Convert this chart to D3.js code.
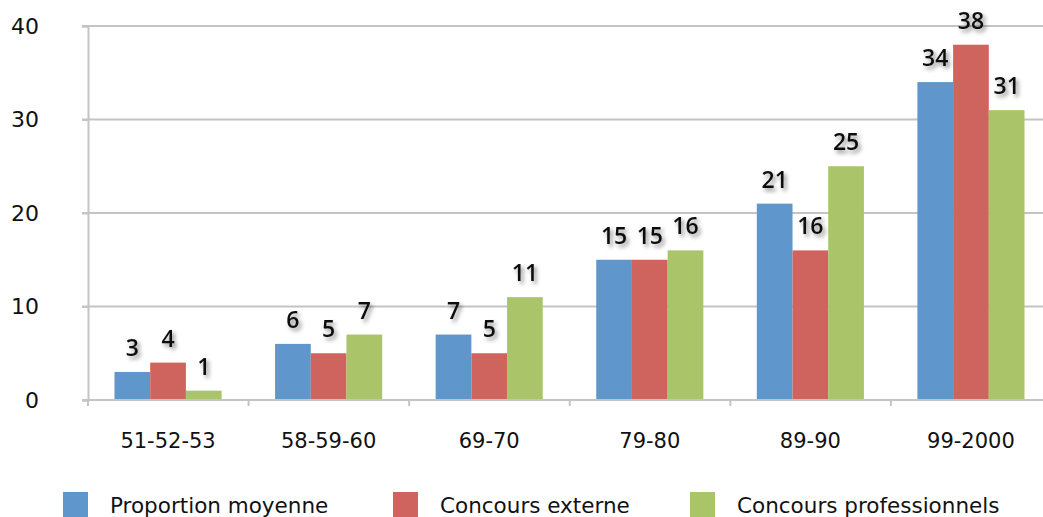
<!DOCTYPE html>
<html>
<head>
<meta charset="utf-8">
<script src="https://cdn.jsdelivr.net/npm/d3@7"></script>
<style>
  body { margin: 0; background: #fff; }
  svg { display: block; }
  text { font-family: "DejaVu Sans", sans-serif; fill: #111; }
</style>
</head>
<body>
<svg id="chart" width="1043" height="517"></svg>
<script>
// chart data
var categories = ["51-52-53", "58-59-60", "69-70", "79-80", "89-90", "99-2000"];
var seriesNames = ["Proportion moyenne", "Concours externe", "Concours professionnels"];
var proportionMoyenne = [3, 6, 7, 15, 21, 34];
var concoursExterne = [4, 5, 5, 15, 16, 38];
var concoursPro = [1, 7, 11, 16, 25, 31];
var yTicks = [0, 10, 20, 30, 40];
var colors = ["#5f96cb", "#cf645f", "#aac46a"];

var seriesValues = [proportionMoyenne, concoursExterne, concoursPro];

var svg = d3.select("#chart");

// plot area runs a little past the right edge of the picture, like the original
var plotLeft = 88, plotRight = 1051, plotTop = 26, plotBottom = 400;
var canvasRight = 1043;

var x = d3.scaleBand()
    .domain(categories)
    .range([plotLeft, plotRight])
    .paddingInner(0.333)
    .paddingOuter(0.165);

var xInner = d3.scaleBand()
    .domain(d3.range(seriesNames.length))
    .range([0, x.bandwidth()]);

var y = d3.scaleLinear()
    .domain([0, 40])
    .range([plotBottom, plotTop]);

// shadow for data labels
var defs = svg.append("defs");
var filter = defs.append("filter").attr("id", "shadow")
    .attr("x", "-40%").attr("y", "-40%").attr("width", "180%").attr("height", "180%");
filter.append("feDropShadow")
    .attr("dx", 2.5).attr("dy", 3)
    .attr("stdDeviation", 2.2)
    .attr("flood-color", "#000")
    .attr("flood-opacity", 0.45);

// gridlines
svg.append("g").selectAll("line")
    .data(yTicks.filter(function (d) { return d > 0; }))
    .enter().append("line")
    .attr("x1", plotLeft - 6).attr("x2", canvasRight)
    .attr("y1", function (d) { return y(d); })
    .attr("y2", function (d) { return y(d); })
    .attr("stroke", "#c4c4c4")
    .attr("stroke-width", 2);

// y axis
var yAxis = svg.append("g")
    .attr("transform", "translate(" + plotLeft + ",0)")
    .call(d3.axisLeft(y).tickValues(yTicks).tickSize(6).tickPadding(43));
yAxis.select(".domain").attr("stroke", "#c4c4c4").attr("stroke-width", 2);
yAxis.selectAll(".tick line").attr("stroke", "#c4c4c4").attr("stroke-width", 2);
yAxis.selectAll(".tick text")
    .attr("fill", "#111")
    .style("font-family", "DejaVu Sans, sans-serif")
    .style("font-size", "22px");

// bars
var groups = svg.append("g").selectAll("g")
    .data(categories)
    .enter().append("g")
    .attr("transform", function (d) { return "translate(" + x(d) + ",0)"; });

groups.selectAll("rect")
    .data(function (d, i) {
        return seriesValues.map(function (vals, s) { return { s: s, v: vals[i] }; });
    })
    .enter().append("rect")
    .attr("x", function (d) { return xInner(d.s); })
    .attr("width", xInner.bandwidth())
    .attr("y", function (d) { return y(d.v); })
    .attr("height", function (d) { return plotBottom - y(d.v); })
    .attr("fill", function (d) { return colors[d.s]; });

// x axis
var step = x.step();
var xAxis = svg.append("g");
xAxis.append("line")
    .attr("x1", plotLeft - 6).attr("x2", canvasRight)
    .attr("y1", plotBottom).attr("y2", plotBottom)
    .attr("stroke", "#c4c4c4").attr("stroke-width", 2);
xAxis.selectAll("line.tk")
    .data(d3.range(categories.length + 1))
    .enter().append("line")
    .attr("class", "tk")
    .attr("x1", function (i) { return plotLeft + i * step; })
    .attr("x2", function (i) { return plotLeft + i * step; })
    .attr("y1", plotBottom).attr("y2", plotBottom + 6)
    .attr("stroke", "#c4c4c4").attr("stroke-width", 2);
xAxis.selectAll("text")
    .data(categories)
    .enter().append("text")
    .attr("x", function (d) { return x(d) + x.bandwidth() / 2; })
    .attr("y", 448)
    .attr("text-anchor", "middle")
    .style("font-size", "21px")
    .text(function (d) { return d; });

// data labels
groups.selectAll("text.val")
    .data(function (d, i) {
        return seriesValues.map(function (vals, s) { return { s: s, v: vals[i] }; });
    })
    .enter().append("text")
    .attr("class", "val")
    .attr("x", function (d) { return xInner(d.s) + xInner.bandwidth() / 2; })
    .attr("y", function (d) { return y(d.v) - 16; })
    .attr("text-anchor", "middle")
    .attr("filter", "url(#shadow)")
    .style("font-family", "'Open Sans', sans-serif")
    .style("font-size", "23px")
    .style("font-weight", "600")
    .text(function (d) { return d.v; });

// legend
var legendX = [63, 393, 690];
var legend = svg.append("g").selectAll("g")
    .data(seriesNames)
    .enter().append("g")
    .attr("transform", function (d, i) { return "translate(" + legendX[i] + ",492)"; });
legend.append("rect")
    .attr("width", 25).attr("height", 25)
    .attr("fill", function (d, i) { return colors[i]; });
legend.append("text")
    .attr("x", 47).attr("y", 21)
    .style("font-size", "21.5px")
    .text(function (d) { return d; });
</script>
</body>
</html>
